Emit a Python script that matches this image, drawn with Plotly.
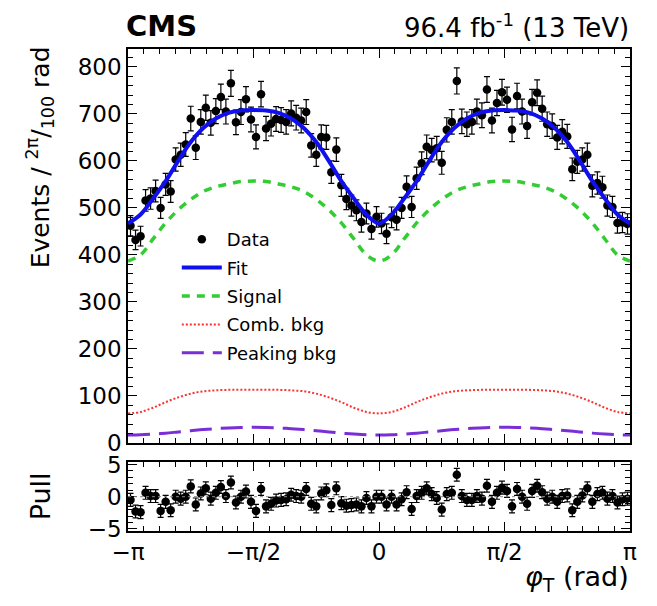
import numpy as np
import plotly.graph_objects as go

# ---------------- data ----------------
n_bins = 100
data_counts = [462, 432, 440, 516, 520, 536, 500, 550, 535, 603,
               613, 635, 690, 628, 683, 713, 681, 706, 736, 705,
               765, 682, 704, 731, 688, 651, 742, 669, 679, 689,
               687, 683, 701, 692, 686, 704, 633, 613, 651, 650,
               576, 624, 548, 519, 505, 495, 470, 488, 455, 481,
               467, 445, 480, 475, 500, 545, 502, 563, 595, 630,
               623, 627, 596, 666, 683, 770, 684, 678, 683, 705,
               697, 752, 686, 723, 746, 730, 667, 738, 705, 674,
               725, 745, 711, 678, 674, 650, 662, 652, 582, 598,
               603, 613, 547, 553, 544, 505, 502, 468, 469, 466]

pull_values = [-0.5, -2.3, -2.4, 0.6, 0.1, 0.1, -2.2, -0.8, -2.1, 0.0,
               -0.3, 0.0, 1.6, -1.2, 0.5, 1.3, -0.3, 0.6, 1.5, 0.1,
               2.2, -0.9, 0.0, 0.8, -0.8, -2.2, 1.2, -1.5, -1.1, -0.6,
               -0.5, -0.4, 0.3, 0.1, 0.0, 1.2, -1.1, -1.5, 0.5, 1.0,
               -1.3, 1.3, -1.0, -1.4, -1.3, -1.2, -1.5, -0.2, -1.5, 0.0,
               0.0, -1.2, 0.0, -1.2, -0.4, 0.7, -1.9, 0.1, 0.6, 1.3,
               0.4, -0.2, -2.0, 0.4, 0.6, 3.4, 0.1, -0.5, -0.5, 0.1,
               -0.3, 1.7, -0.8, 0.6, 1.4, 0.9, -1.5, 1.2, 0.0, -1.1,
               0.9, 1.7, 0.7, -0.3, 0.0, -0.8, 0.1, 0.2, -2.1, -0.8,
               0.2, 1.3, -0.8, 0.4, 0.6, -0.3, 0.1, -0.9, -0.4, -0.3]

# model curves sampled every pi/20 from -pi to pi (41 points)
fit_curve = [467, 486, 520, 557, 600, 640, 670, 690, 702, 707, 708,
             707, 702, 690, 670, 640, 600, 557, 520, 486, 467,
             486, 520, 557, 600, 640, 670, 690, 702, 707, 708,
             707, 702, 690, 670, 640, 600, 557, 520, 486, 467]
signal_curve = [387, 400, 434, 468, 496, 518, 535, 545, 551, 556, 557,
                556, 551, 545, 535, 518, 496, 468, 434, 400, 387,
                400, 434, 468, 496, 518, 535, 545, 551, 556, 557,
                556, 551, 545, 535, 518, 496, 468, 434, 400, 387]
comb_bkg_curve = [63, 66, 75, 87, 97, 105, 110, 112, 113, 113, 113,
                  113, 113, 112, 110, 105, 97, 87, 75, 66, 63,
                  66, 75, 87, 97, 105, 110, 112, 113, 113, 113,
                  113, 113, 112, 110, 105, 97, 87, 75, 66, 63]
peaking_bkg_curve = [17, 17.5, 19, 21, 23.5, 26, 28.5, 30.5, 32, 33, 33.3,
                     33, 32, 30.5, 28.5, 26, 23.5, 21, 19, 17.5, 17,
                     17.5, 19, 21, 23.5, 26, 28.5, 30.5, 32, 33, 33.3,
                     33, 32, 30.5, 28.5, 26, 23.5, 21, 19, 17.5, 17]

x_tick_vals = [-np.pi, -np.pi / 2, 0, np.pi / 2, np.pi]
x_tick_text = ["\u2212\u03c0", "\u2212\u03c0/2", "0", "\u03c0/2", "\u03c0"]
y_tick_vals = [0, 100, 200, 300, 400, 500, 600, 700, 800]
pull_tick_vals = [-5, 0, 5]

# ---------------- derived positions ----------------
edges = np.linspace(-np.pi, np.pi, n_bins + 1)
centers = 0.5 * (edges[:-1] + edges[1:])
curve_phi = np.linspace(-np.pi, np.pi, len(fit_curve))
data_err = np.sqrt(np.array(data_counts, dtype=float))

FONT = "DejaVu Sans"
OFF = 8  # page body margin of the html page
W, H = 657 - 2 * OFF, 606 - 2 * OFF
L, R, T, B = 128 - OFF, W - (632 - OFF), 49 - OFF, H - (531 - OFF)
H_PLOT = H - T - B
W_PLOT = W - L - R


def px_x(x):  # reference pixel -> paper x
    return (x - 128) / W_PLOT


def px_y(y):  # reference pixel -> paper y
    return 1 - (y - 49) / H_PLOT


fig = go.Figure()

fig.add_trace(go.Scatter(
    x=centers, y=data_counts, mode="markers", name="Data",
    marker=dict(color="black", size=8.5),
    error_y=dict(type="data", array=data_err, color="black", thickness=1.2, width=3),
    legendgroup="a", xaxis="x", yaxis="y"))
fig.add_trace(go.Scatter(
    x=curve_phi, y=fit_curve, mode="lines", name="Fit",
    line=dict(color="#1010ee", width=4, shape="spline", smoothing=1.0),
    legendgroup="b", xaxis="x", yaxis="y"))
fig.add_trace(go.Scatter(
    x=curve_phi, y=signal_curve, mode="lines", name="Signal",
    line=dict(color="#33cc33", width=3.5, dash="8px,7px", shape="spline", smoothing=1.0),
    legendgroup="c", xaxis="x", yaxis="y"))
fig.add_trace(go.Scatter(
    x=curve_phi, y=comb_bkg_curve, mode="lines", name="Comb. bkg",
    line=dict(color="#ff3030", width=2, dash="2px,2px", shape="spline", smoothing=1.0),
    legendgroup="d", xaxis="x", yaxis="y"))
fig.add_trace(go.Scatter(
    x=curve_phi, y=peaking_bkg_curve, mode="lines", name="Peaking bkg",
    line=dict(color="#7a2ed6", width=3, dash="22px,9px", shape="spline", smoothing=1.0),
    legendgroup="e", xaxis="x", yaxis="y"))

fig.add_trace(go.Scatter(
    x=centers, y=pull_values, mode="markers", showlegend=False,
    marker=dict(color="black", size=8.5),
    error_y=dict(type="constant", value=1, color="black", thickness=1.2, width=3),
    xaxis="x2", yaxis="y2"))

axis_common = dict(showline=True, linecolor="black", linewidth=1.5, mirror="allticks",
                   ticks="inside", tickcolor="black", showgrid=False, zeroline=False,
                   tickfont=dict(family=FONT, size=23, color="black"))

fig.update_layout(
    width=W, height=H,
    margin=dict(l=L, r=R, t=T, b=B),
    paper_bgcolor="white", plot_bgcolor="white",
    font=dict(family=FONT, color="black"),
    xaxis=dict(domain=[0, 1], anchor="y", range=[-np.pi, np.pi],
               tickvals=x_tick_vals, showticklabels=False, ticklen=9,
               minor=dict(dtick=np.pi / 16, tick0=-np.pi, ticklen=5, ticks="inside", tickcolor="black"),
               **axis_common),
    yaxis=dict(domain=[px_y(443), 1], anchor="x", range=[0, 838],
               tickvals=y_tick_vals, ticklen=9,
               minor=dict(dtick=20, ticklen=5, ticks="inside", tickcolor="black"),
               **axis_common),
    xaxis2=dict(domain=[0, 1], anchor="y2", range=[-np.pi, np.pi],
                tickvals=x_tick_vals, ticktext=x_tick_text, ticklen=9,
                minor=dict(dtick=np.pi / 16, tick0=-np.pi, ticklen=5, ticks="inside", tickcolor="black"),
                **axis_common),
    yaxis2=dict(domain=[0, px_y(462)], anchor="x2", range=[-5.32, 5.38],
                tickvals=pull_tick_vals, ticklen=9,
                minor=dict(dtick=1, ticklen=5, ticks="inside", tickcolor="black"),
                **axis_common),
    legend=dict(x=px_x(177), y=px_y(221), xanchor="left", yanchor="top",
                bgcolor="rgba(0,0,0,0)", font=dict(family=FONT, size=18, color="black"),
                tracegroupgap=2, itemwidth=40),
    showlegend=True,
)

fig.add_hline(y=0, line=dict(color="#888888", width=1, dash="dot"))
fig.update_shapes(xref="x2", yref="y2", x0=-np.pi, x1=np.pi)

ann = [
    dict(text="<b>CMS</b>", x=px_x(124), y=px_y(26), xref="paper", yref="paper",
         xanchor="left", yanchor="middle", showarrow=False, font=dict(family=FONT, size=29, color="black")),
    dict(text="96.4 fb<sup>-1</sup> (13 TeV)", x=px_x(633), y=px_y(26), xref="paper", yref="paper",
         xanchor="right", yanchor="middle", showarrow=False, font=dict(family=FONT, size=26, color="black")),
    dict(text="Events / <sup>2\u03c0</sup>/<sub>100</sub> rad", textangle=-90,
         x=px_x(40), y=px_y(44), xref="paper", yref="paper",
         xanchor="center", yanchor="top", showarrow=False, font=dict(family=FONT, size=25, color="black")),
    dict(text="Pull", textangle=-90,
         x=px_x(40), y=px_y(496), xref="paper", yref="paper",
         xanchor="center", yanchor="middle", showarrow=False, font=dict(family=FONT, size=27, color="black")),
    dict(text="<i>\u03c6</i><sub>T</sub> (rad)", x=px_x(633), y=px_y(578), xref="paper", yref="paper",
         xanchor="right", yanchor="middle", showarrow=False, font=dict(family=FONT, size=27, color="black")),
]
fig.update_layout(annotations=ann)

fig.write_html("out.html")
